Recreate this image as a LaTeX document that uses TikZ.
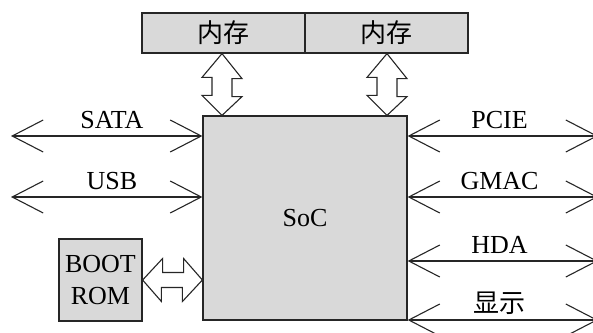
\documentclass[tikz,border=0pt]{standalone}
\usepackage{fontspec}
\setmainfont{Liberation Serif}
\newfontfamily\cjk{Noto Sans CJK SC}
\usetikzlibrary{arrows.meta}
\definecolor{boxgray}{HTML}{D9D9D9}
\definecolor{ink}{HTML}{262626}
\tikzset{
  blk/.style={draw=ink, line width=1.2pt, fill=boxgray, inner sep=0pt, font=\fontsize{26}{30}\selectfont},
  lbl/.style={font=\fontsize{26}{30}\selectfont, inner sep=0pt, anchor=base, yshift=8pt},
  bus/.style={draw=ink, line width=1.1pt, {Straight Barb[length=31pt,width=32pt,line width=1.1pt]}-{Straight Barb[length=31pt,width=32pt,line width=1.1pt]}},
  fat/.style={draw=ink, line width=1.1pt, fill=white, line join=miter}
}
\begin{document}
\begin{tikzpicture}[x=1pt,y=-1pt]
\useasboundingbox (0,0) rectangle (593,332);
\node[blk, minimum width=163pt, minimum height=40pt] (m1) at (223.5,33) {\cjk 内存};
\node[blk, minimum width=163pt, minimum height=40pt] (m2) at (386.5,33) {\cjk 内存};
\node[blk, minimum width=204pt, minimum height=204pt] (soc) at (305,218) {SoC};
\node[blk, minimum width=83pt, minimum height=82pt, align=center, font=\fontsize{26}{32}\selectfont] (boot) at (100.5,280) {BOOT\\ROM};
% fat arrows
\coordinate (x1) at (222,0);
\coordinate (x2) at (387,0);
\coordinate (yb) at (0,280);
\draw[fat] (m1.south -| x1) -- ++(20,25) -- ++(-10,0) -- ++(0,18) -- ++(10,0) -- (soc.north -| x1) -- ++(-20,-20) -- ++(10,0) -- ++(0,-18) -- ++(-10,0) -- cycle;
\draw[fat] (m2.south -| x2) -- ++(20,25) -- ++(-10,0) -- ++(0,18) -- ++(10,0) -- (soc.north -| x2) -- ++(-20,-20) -- ++(10,0) -- ++(0,-18) -- ++(-10,0) -- cycle;
\draw[fat] (boot.east) -- ++(20,-21.5) -- ++(0,14) -- ++(21,0) -- ++(0,-14) -- (soc.west |- yb) -- ++(-20,21.5) -- ++(0,-14) -- ++(-21,0) -- ++(0,14) -- cycle;
% coordinates for buses
\coordinate (l1) at (11,136);
\coordinate (l2) at (11,197);
\coordinate (r1) at (598,136);
\coordinate (r2) at (598,197);
\coordinate (r3) at (598,261);
\coordinate (r4) at (598,320);
\draw[bus] (l1) -- (l1 -| soc.west) node[lbl, pos=0.527] {SATA};
\draw[bus] (l2) -- (l2 -| soc.west) node[lbl, pos=0.527] {USB};
\draw[bus] (r1 -| soc.east) -- (r1) node[lbl, pos=0.483] {PCIE};
\draw[bus] (r2 -| soc.east) -- (r2) node[lbl, pos=0.483] {GMAC};
\draw[bus] (r3 -| soc.east) -- (r3) node[lbl, pos=0.483] {HDA};
\draw[bus] (r4 -| soc.east) -- (r4) node[lbl, pos=0.483] {\cjk 显示};
\end{tikzpicture}
\end{document}
